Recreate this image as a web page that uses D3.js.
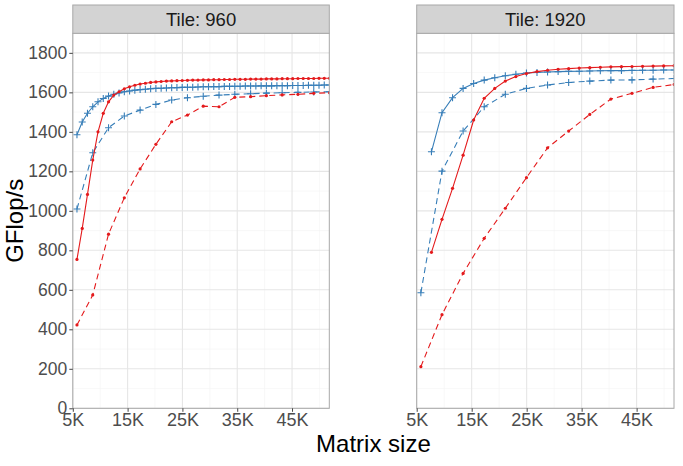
<!DOCTYPE html>
<html><head><meta charset="utf-8">
<script src="https://cdn.jsdelivr.net/npm/d3@7"></script>
<style>
html,body{margin:0;padding:0;background:#fff;}
text{font-family:"Liberation Sans",Arial,Helvetica,sans-serif;}
</style></head>
<body><svg id="chart" width="683" height="466"></svg>
<script>
// ---------------- data ----------------
const tiles = ["Tile: 960", "Tile: 1920"];
const xTicks = [5000, 15000, 25000, 35000, 45000];
const xMinor = [10000, 20000, 30000, 40000, 50000];
const yTicks = [0, 200, 400, 600, 800, 1000, 1200, 1400, 1600, 1800];
const yMinor = [100, 300, 500, 700, 900, 1100, 1300, 1500, 1700];

// Tile 960
const t960SolidX = [5760,6720,7680,8640,9600,10560,11520,12480,13440,14400,15360,16320,17280,18240,19200,20160,21120,22080,23040,24000,24960,25920,26880,27840,28800,29760,30720,31680,32640,33600,34560,35520,36480,37440,38400,39360,40320,41280,42240,43200,44160,45120,46080,47040,48000,48960,49920,50880,51840];
const t960RedSolid = [754,911,1083,1257,1400,1494,1552,1586,1603,1618,1628,1636,1642,1646,1650,1653,1655,1657,1658,1659,1660,1661,1662,1662,1663,1663,1664,1664,1665,1665,1666,1666,1666,1667,1667,1667,1668,1668,1668,1669,1669,1669,1670,1670,1670,1670,1671,1671,1671];
const t960BlueSolid = [1385,1450,1494,1527,1552,1569,1581,1590,1597,1603,1607,1611,1614,1616,1618,1620,1621,1622,1623,1624,1625,1626,1626,1627,1628,1628,1629,1629,1630,1630,1631,1631,1632,1632,1632,1633,1633,1633,1634,1634,1634,1635,1635,1635,1636,1636,1636,1637,1637];
const t960DashX = [5760,8640,11520,14400,17280,20160,23040,25920,28800,31680,34560,37440,40320,43200,46080,48960,51840];
const t960RedDash = [422,574,882,1066,1212,1337,1451,1485,1530,1527,1575,1578,1583,1587,1590,1595,1598];
const t960BlueDash = [1009,1294,1421,1480,1510,1539,1561,1573,1580,1586,1590,1593,1596,1598,1600,1602,1603];

// Tile 1920
const t1920SolidX = [7680,9600,11520,13440,15360,17280,19200,21120,23040,24960,26880,28800,30720,32640,34560,36480,38400,40320,42240,44160,46080,48000,49920,51840];
const t1920RedSolid = [790,957,1114,1282,1460,1570,1620,1657,1680,1695,1705,1712,1717,1720,1723,1725,1727,1729,1730,1731,1732,1733,1734,1735];
const t1920BlueSolid = [1299,1497,1573,1620,1645,1662,1674,1684,1692,1698,1701,1703,1705,1706,1707,1708,1709,1710,1710,1711,1712,1712,1713,1713];
const t1920DashX = [5760,9600,13440,17280,21120,24960,28800,32640,36480,40320,44160,48000,51840];
const t1920RedDash = [211,474,683,861,1013,1168,1319,1404,1488,1566,1595,1625,1640];
const t1920BlueDash = [585,1201,1404,1527,1590,1620,1637,1650,1657,1662,1663,1667,1670];

const RED = "#E41A1C", BLUE = "#377EB8";

const panels = [
  { title: tiles[0], x0: 72.8, x1: 329.3, showY: true, series: [
    { xs: t960DashX, ys: t960BlueDash, color: BLUE, dash: true, shape: "plus" },
    { xs: t960SolidX, ys: t960BlueSolid, color: BLUE, dash: false, shape: "plus" },
    { xs: t960DashX, ys: t960RedDash, color: RED, dash: true, shape: "dot" },
    { xs: t960SolidX, ys: t960RedSolid, color: RED, dash: false, shape: "dot" } ] },
  { title: tiles[1], x0: 416.7, x1: 674, showY: false, series: [
    { xs: t1920DashX, ys: t1920BlueDash, color: BLUE, dash: true, shape: "plus" },
    { xs: t1920SolidX, ys: t1920BlueSolid, color: BLUE, dash: false, shape: "plus" },
    { xs: t1920DashX, ys: t1920RedDash, color: RED, dash: true, shape: "dot" },
    { xs: t1920SolidX, ys: t1920RedSolid, color: RED, dash: false, shape: "dot" } ] }
];

// ---------------- drawing ----------------
const svg = d3.select("#chart");
const PT = 33.3, PB = 408.3, STRIP_TOP = 5;
const y = d3.scaleLinear().domain([0, 1899]).range([PB, PT]);
const FONT = "Liberation Sans, Arial, sans-serif";

panels.forEach((p, pi) => {
  const x = d3.scaleLinear().domain([5000, 51800]).range([p.x0, p.x1]);
  const g = svg.append("g");
  const clipId = "clip" + pi;
  svg.append("clipPath").attr("id", clipId).append("rect")
    .attr("x", p.x0).attr("y", PT).attr("width", p.x1 - p.x0).attr("height", PB - PT);

  g.append("rect").attr("x", p.x0).attr("y", PT).attr("width", p.x1 - p.x0).attr("height", PB - PT).attr("fill", "#fff");
  // minor grid
  g.selectAll(".xmin").data(xMinor).join("line")
    .attr("x1", d => x(d)).attr("x2", d => x(d)).attr("y1", PT).attr("y2", PB)
    .attr("stroke", "#F3F3F3").attr("stroke-width", 0.6);
  g.selectAll(".ymin").data(yMinor).join("line")
    .attr("x1", p.x0).attr("x2", p.x1).attr("y1", d => y(d)).attr("y2", d => y(d))
    .attr("stroke", "#F3F3F3").attr("stroke-width", 0.6);
  // major grid
  g.selectAll(".xmaj").data(xTicks).join("line")
    .attr("x1", d => x(d)).attr("x2", d => x(d)).attr("y1", PT).attr("y2", PB)
    .attr("stroke", "#E6E6E6").attr("stroke-width", 1.1);
  g.selectAll(".ymaj").data(yTicks).join("line")
    .attr("x1", p.x0).attr("x2", p.x1).attr("y1", d => y(d)).attr("y2", d => y(d))
    .attr("stroke", "#E6E6E6").attr("stroke-width", 1.1);

  const data = g.append("g").attr("clip-path", `url(#${clipId})`);
  const line = d3.line().x(d => x(d[0])).y(d => y(d[1]));
  p.series.forEach(s => {
    const pts = s.xs.map((v, i) => [v, s.ys[i]]);
    data.append("path").attr("d", line(pts)).attr("fill", "none")
      .attr("stroke", s.color).attr("stroke-width", 1.1)
      .attr("stroke-dasharray", s.dash ? "6,4" : null);
    if (s.shape === "dot") {
      data.selectAll(null).data(pts).join("circle")
        .attr("cx", d => x(d[0])).attr("cy", d => y(d[1])).attr("r", 1.6).attr("fill", s.color);
    } else {
      data.selectAll(null).data(pts).join("path")
        .attr("d", d => `M${x(d[0]) - 3.5},${y(d[1])}h7M${x(d[0])},${y(d[1]) - 3.5}v7`)
        .attr("stroke", s.color).attr("stroke-width", 1.1).attr("fill", "none");
    }
  });

  // border
  g.append("rect").attr("x", p.x0).attr("y", PT).attr("width", p.x1 - p.x0).attr("height", PB - PT)
    .attr("fill", "none").attr("stroke", "#A8A8A8").attr("stroke-width", 1);
  // strip
  g.append("rect").attr("x", p.x0).attr("y", STRIP_TOP).attr("width", p.x1 - p.x0).attr("height", PT - STRIP_TOP)
    .attr("fill", "#D3D3D3").attr("stroke", "#A8A8A8").attr("stroke-width", 1);
  g.append("text").attr("x", (p.x0 + p.x1) / 2).attr("y", (STRIP_TOP + PT) / 2 + 6.5)
    .attr("text-anchor", "middle").attr("font-size", 18.5).attr("fill", "#1A1A1A").text(p.title);

  // x axis
  const xa = svg.append("g").attr("transform", `translate(0,${PB})`)
    .call(d3.axisBottom(x).tickValues(xTicks).tickSize(3.5).tickPadding(1.5).tickFormat(d => (d / 1000) + "K"));
  xa.select(".domain").remove();
  xa.selectAll(".tick line").attr("stroke", "#444").attr("stroke-width", 1);
  xa.selectAll(".tick text").attr("font-size", 18).attr("fill", "#4D4D4D").attr("font-family", FONT);

  if (p.showY) {
    const ya = svg.append("g").attr("transform", `translate(${p.x0},0)`)
      .call(d3.axisLeft(y).tickValues(yTicks).tickSize(3.5).tickPadding(2).tickFormat(d3.format("d")));
    ya.select(".domain").remove();
    ya.selectAll(".tick line").attr("stroke", "#444").attr("stroke-width", 1);
    ya.selectAll(".tick text").attr("font-size", 17.5).attr("fill", "#4D4D4D").attr("font-family", FONT);
  }
});

svg.append("text").attr("x", 373.4).attr("y", 452).attr("text-anchor", "middle")
  .attr("font-size", 24).attr("fill", "#000").text("Matrix size");
svg.append("text").attr("transform", `translate(23,${(PT + PB) / 2}) rotate(-90)`)
  .attr("text-anchor", "middle").attr("font-size", 24).attr("fill", "#000").text("GFlop/s");
</script></body></html>
